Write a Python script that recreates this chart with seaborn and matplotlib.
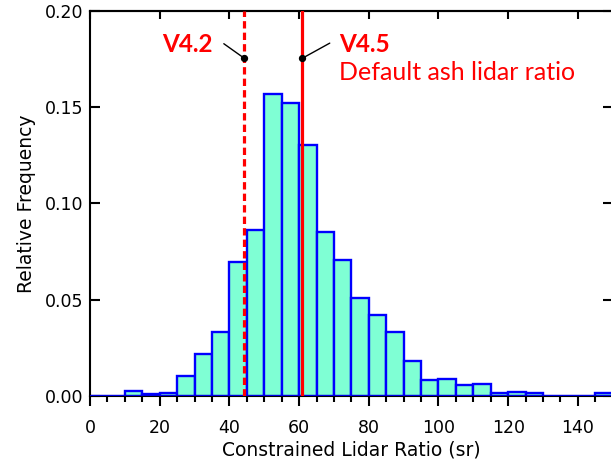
import numpy as np
import pandas as pd
import matplotlib
matplotlib.use("Agg")
import matplotlib.pyplot as plt
import seaborn as sns

# histogram bins (left edges, width 5 sr) and relative frequencies
bin_left = list(range(0, 150, 5))
rel_freq = [0.0, 0.0, 0.0024, 0.0007, 0.0012, 0.0104, 0.0216, 0.0330, 0.0693, 0.0863,
            0.1568, 0.1523, 0.1302, 0.0850, 0.0707, 0.0510, 0.0417, 0.0330, 0.0181, 0.0080,
            0.0089, 0.0057, 0.0063, 0.0012, 0.0019, 0.0012, 0.0, 0.0, 0.0, 0.0012]

v42_ratio = 44.3
v45_ratio = 60.9
x_ticks = [0, 20, 40, 60, 80, 100, 120, 140]
y_ticks = [0.00, 0.05, 0.10, 0.15, 0.20]

df = pd.DataFrame({"lidar_ratio": [b + 2.5 for b in bin_left], "freq": rel_freq})

sns.set_style("ticks", {"axes.edgecolor": "black", "xtick.color": "black",
                        "ytick.color": "black", "text.color": "black",
                        "axes.labelcolor": "black"})
plt.rcParams["font.family"] = ["DejaVu Sans"]

fig = plt.figure(figsize=(6.11, 4.63), dpi=100)
ax = fig.add_axes([0.1473, 0.1454, 0.8555, 0.8308])

sns.histplot(data=df, x="lidar_ratio", weights="freq", binwidth=5, binrange=(0, 150),
             color="#7FFFD4", edgecolor="#0000FF", linewidth=1.7, alpha=1, ax=ax)
ax.axhline(0, color="#0000FF", lw=2, zorder=3)

ax.axvline(v42_ratio, color="#FF0000", lw=2.3, dashes=(2.3, 1.3), zorder=4)
ax.axvline(v45_ratio, color="#FF0000", lw=2.3, zorder=4)

# leader lines with dots
ax.plot([v42_ratio, 38.4], [0.1754, 0.1830], color="black", lw=1, zorder=5)
ax.plot([v45_ratio, 68.8], [0.1754, 0.1833], color="black", lw=1, zorder=5)
ax.scatter([v42_ratio, v45_ratio], [0.1754, 0.1754], s=18, color="black", zorder=6)

ann_font = ["Lato", "DejaVu Sans"]
ax.text(35.3, 0.1827, "V4.2", color="#FF0000", fontsize=17.5, fontweight="bold",
        ha="right", va="center", family=ann_font)
ax.text(71.4, 0.1827, "V4.5", color="#FF0000", fontsize=17.5, fontweight="bold",
        ha="left", va="center", family=ann_font)
ax.text(71.4, 0.1680, "Default ash lidar ratio", color="#FF0000", fontsize=18,
        ha="left", va="center", family=ann_font)

ax.set_xlim(0, 150)
ax.set_ylim(0, 0.20)
ax.set_xticks(x_ticks)
ax.set_xticks(bin_left, minor=True)
ax.set_yticks(y_ticks)
ax.set_yticklabels([f"{v:.2f}" for v in y_ticks])
ax.set_xlabel("Constrained Lidar Ratio (sr)", fontsize=13.5, labelpad=2)
ax.set_ylabel("Relative Frequency", fontsize=13.5, labelpad=6)

for s in ax.spines.values():
    s.set_visible(True)
    s.set_linewidth(1.5)
    s.set_color("black")
ax.tick_params(axis="x", which="major", direction="out", length=7, width=1.5,
               labelsize=12.5, pad=10, top=False)
ax.tick_params(axis="x", which="minor", direction="out", length=4, width=1.5, top=False)
ax.tick_params(axis="y", which="major", direction="in", length=7, width=1.5,
               labelsize=12.5, pad=5, right=True)
ax.tick_params(axis="y", which="minor", left=False, right=False)

# top axis: inward major ticks only
top = ax.secondary_xaxis("top")
top.set_xticks(x_ticks)
top.tick_params(direction="in", length=6, width=1.5, labeltop=False, color="black")
top.spines["top"].set_linewidth(1.5)
top.spines["top"].set_color("black")

fig.savefig("out.png", dpi=100)
